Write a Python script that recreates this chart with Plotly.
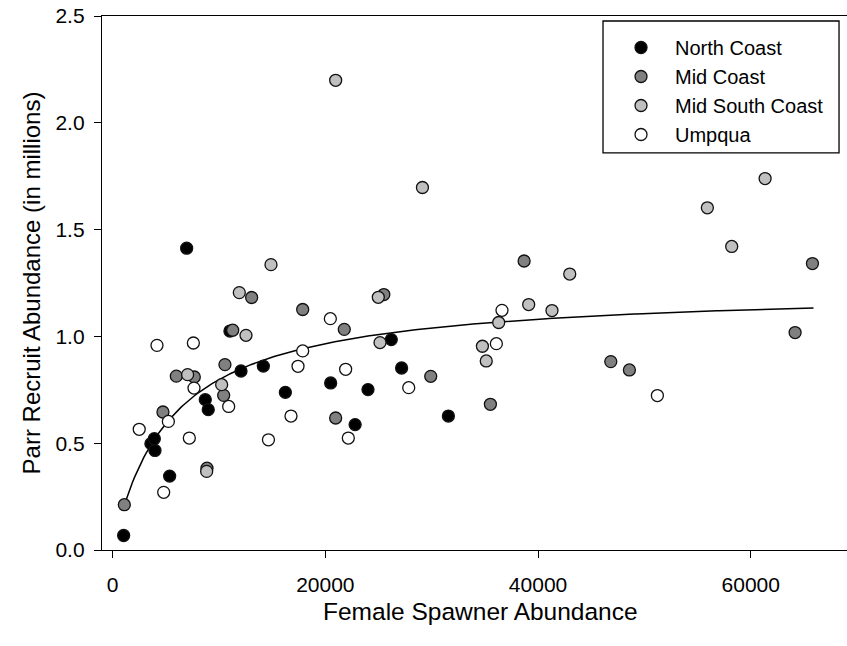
import plotly.graph_objects as go

# ---- data ----
north_x = [1035, 3600, 3920, 3980, 5360, 6960, 8710, 8990, 11030, 12070, 14170,
           16240, 20500, 22800, 24010, 26200, 27170, 31570]
north_y = [0.068, 0.498, 0.521, 0.466, 0.346, 1.413, 0.704, 0.657, 1.025, 0.838, 0.861,
           0.738, 0.782, 0.587, 0.751, 0.985, 0.852, 0.627]

mid_x = [1100, 4730, 5990, 7680, 8870, 10440, 10560, 11290, 13070, 17870, 21780,
         20970, 25500, 29910, 35520, 38690, 46840, 48590, 64170, 65800]
mid_y = [0.212, 0.646, 0.814, 0.810, 0.383, 0.724, 0.868, 1.029, 1.182, 1.126, 1.033,
         0.618, 1.196, 0.813, 0.682, 1.353, 0.882, 0.843, 1.018, 1.341]

msc_x = [7050, 8840, 10250, 11910, 12540, 14890, 20970, 24980, 25140, 29130, 34770,
         35130, 36300, 39120, 41310, 42980, 55920, 58210, 61350]
msc_y = [0.821, 0.368, 0.774, 1.205, 1.005, 1.336, 2.199, 1.183, 0.971, 1.697, 0.954,
         0.885, 1.065, 1.149, 1.121, 1.292, 1.602, 1.421, 1.739]

ump_x = [2500, 4170, 4800, 5240, 7210, 7590, 7650, 10910, 14650, 16770, 17430,
         17870, 20470, 21910, 22160, 27840, 36080, 36610, 51220]
ump_y = [0.565, 0.958, 0.270, 0.602, 0.524, 0.969, 0.758, 0.672, 0.516, 0.627, 0.860,
         0.932, 1.083, 0.846, 0.524, 0.760, 0.966, 1.122, 0.723]

# fitted Beverton-Holt curve parameters (y = a*x/(b+x)) and its x span
fit_a = 1.2252
fit_b = 5357.0
fit_x_start = 1200
fit_x_end = 65900

x_ticks = [0, 20000, 40000, 60000]
y_ticks = [0.0, 0.5, 1.0, 1.5, 2.0, 2.5]

x_title = "Female Spawner Abundance"
y_title = "Parr Recruit Abundance (in millions)"

# ---- figure ----
FONT = "Liberation Sans, Arial, sans-serif"
fig = go.Figure()

n = 300
fit_x = [fit_x_start + (fit_x_end - fit_x_start) * i / (n - 1) for i in range(n)]
fit_y = [fit_a * v / (fit_b + v) for v in fit_x]
fig.add_trace(go.Scatter(x=fit_x, y=fit_y, mode="lines",
                         line=dict(color="black", width=1.5),
                         showlegend=False, hoverinfo="skip"))

series = [
    ("North Coast", north_x, north_y, "#000000"),
    ("Mid Coast", mid_x, mid_y, "#808080"),
    ("Mid South Coast", msc_x, msc_y, "#c0c0c0"),
    ("Umpqua", ump_x, ump_y, "#ffffff"),
]
for name, xs, ys, col in series:
    fig.add_trace(go.Scatter(
        x=xs, y=ys, mode="markers", name=name,
        marker=dict(size=12, color=col, line=dict(color="#111111", width=1.3)),
    ))

# legend frame (drawn as a paper-positioned rectangle)
fig.add_shape(type="rect", xref="paper", yref="paper",
              x0=0.6725, x1=0.9893, y0=0.7435, y1=0.9906,
              line=dict(color="black", width=1.3), fillcolor="white", layer="above")

# x-axis title placed as an annotation
fig.add_annotation(text=x_title, xref="paper", yref="paper",
                   x=0.5074, y=-0.1161, xanchor="center", yanchor="middle",
                   showarrow=False, font=dict(family=FONT, size=24.5, color="black"))

fig.update_layout(
    width=847, height=646,
    margin=dict(l=102, r=0, t=16, b=96, pad=0),
    paper_bgcolor="white", plot_bgcolor="white",
    font=dict(family=FONT, size=21, color="black"),
    legend=dict(
        x=0.6725, y=0.9775, xanchor="left", yanchor="top",
        bgcolor="rgba(0,0,0,0)", borderwidth=0,
        font=dict(family=FONT, size=20, color="black"),
        itemwidth=58, indentation=4,
    ),
)
fig.update_xaxes(
    range=[-1000, 69050], tickvals=x_ticks, ticktext=[str(v) for v in x_ticks],
    showgrid=False, zeroline=False, showline=True, linecolor="black", linewidth=1.3,
    mirror=True, ticks="outside", ticklen=7, tickwidth=1.2, tickcolor="black",
    ticklabelstandoff=9,
)
fig.update_yaxes(
    range=[0, 2.5], tickvals=y_ticks, ticktext=[f"{v:.1f}" for v in y_ticks],
    showgrid=False, zeroline=False, showline=True, linecolor="black", linewidth=1.3,
    mirror=False, ticks="outside", ticklen=7, tickwidth=1.2, tickcolor="black",
    ticklabelstandoff=5,
    title=dict(text=y_title, font=dict(size=24), standoff=8),
)

fig.write_html("out.html")
